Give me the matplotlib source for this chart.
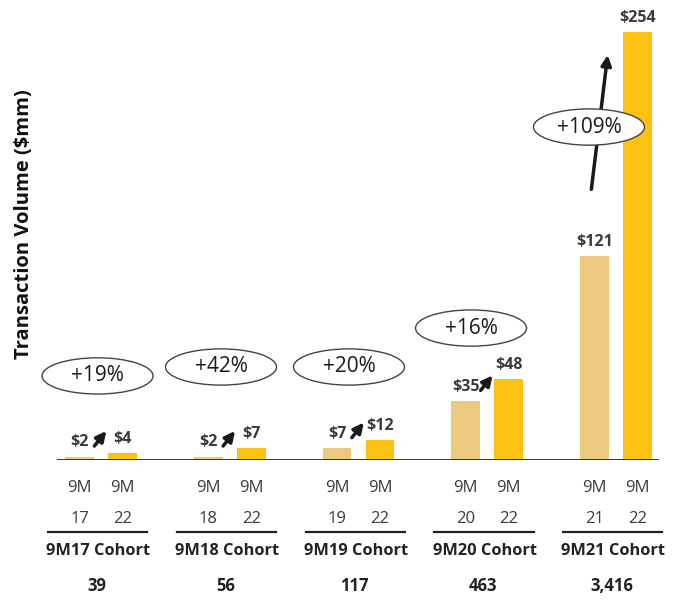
import numpy as np
import matplotlib.pyplot as plt
from matplotlib.patches import Ellipse

plt.rcParams['font.family'] = ['Open Sans', 'DejaVu Sans']

# transaction volume per cohort, $mm
cohorts = ["9M17", "9M18", "9M19", "9M20", "9M21"]
start_years = ["17", "18", "19", "20", "21"]
end_year = "22"
first_period = [2, 2, 7, 35, 121]
latest_period = [4, 7, 12, 48, 254]
growth = ["+19%", "+42%", "+20%", "+16%", "+109%"]
cohort_sizes = ["39", "56", "117", "463", "3,416"]

light = "#ECC97E"
gold = "#FDC111"
ink = "#3b3b3b"

fig = plt.figure(figsize=(6.81, 6.01), dpi=100)
ax = fig.add_axes([0, 141 / 601, 1, 438 / 601])
ax.set_xlim(-101 / 128.75, 580 / 128.75)
ax.set_ylim(0, 438 / 1.685)
ax.axis('off')

x = np.arange(len(cohorts))
off = 0.167
w = 0.225
ax.bar(x - off, first_period, w, color=light, zorder=2)
ax.bar(x + off, latest_period, w, color=gold, zorder=2)
ax.plot([-0.334, 4.326], [0, 0], color="#333333", lw=1.4, zorder=3)

for i in x:
    v1, v2 = first_period[i], latest_period[i]
    ax.annotate(f"${v1}", (i - off, v1), xytext=(0, 4.5), textcoords='offset points',
                ha='center', va='bottom', fontsize=11.5, fontweight='bold', color=ink)
    ax.annotate(f"${v2}", (i + off, v2), xytext=(0, 4.5), textcoords='offset points',
                ha='center', va='bottom', fontsize=11.5, fontweight='bold', color=ink)

    # axis labels under each pair
    for dx, yr in ((-off, start_years[i]), (off, end_year)):
        ax.text(i + dx, -16.6, "9M", ha='center', va='center', fontsize=12, color=ink)
        ax.text(i + dx, -35, yr, ha='center', va='center', fontsize=12, color=ink)
    ax.plot([i - 0.41, i + 0.36], [-43, -43], color="#222222", lw=1.6, clip_on=False)
    ax.text(i - 0.02, -54, f"{cohorts[i]} Cohort", ha='center', va='center',
            fontsize=11.8, fontweight='bold', color="#222222")
    ax.text(i - 0.03, -75, cohort_sizes[i], ha='center', va='center',
            fontsize=12, fontweight='bold', color="#222222")

# growth arrows
arrow_kw = dict(arrowstyle='-|>', color='#1a1a1a', lw=2.5, mutation_scale=15)
for i in range(4):
    y0 = first_period[i] + 5
    ax.annotate('', xy=(i + 0.055, y0 + 11.5), xytext=(i - 0.065, y0), arrowprops=arrow_kw, zorder=4)
ax.annotate('', xy=(4 - 0.062, 242), xytext=(4 - 0.194, 159), arrowprops=arrow_kw, zorder=4)

# growth bubbles
bubble_x = [-0.027, -0.068, -0.074, -0.126, -0.21]
bubble_y = [49.9, 55.2, 55.2, 78.3, 197.6]
for i in x:
    cx, cy = i + bubble_x[i], bubble_y[i]
    ax.add_patch(Ellipse((cx, cy), 0.862, 21.5, facecolor='white', edgecolor='#444444',
                         lw=1.0, zorder=5))
    ax.text(cx, cy, growth[i], ha='center', va='center', fontsize=15, color="#1a1a1a", zorder=6)

fig.text(0.035, 1 - 224 / 601, "Transaction Volume ($mm)", rotation=90, ha='center',
         va='center', fontsize=14.5, fontweight='bold', color="#111111")

fig.savefig("out.png", dpi=100)
